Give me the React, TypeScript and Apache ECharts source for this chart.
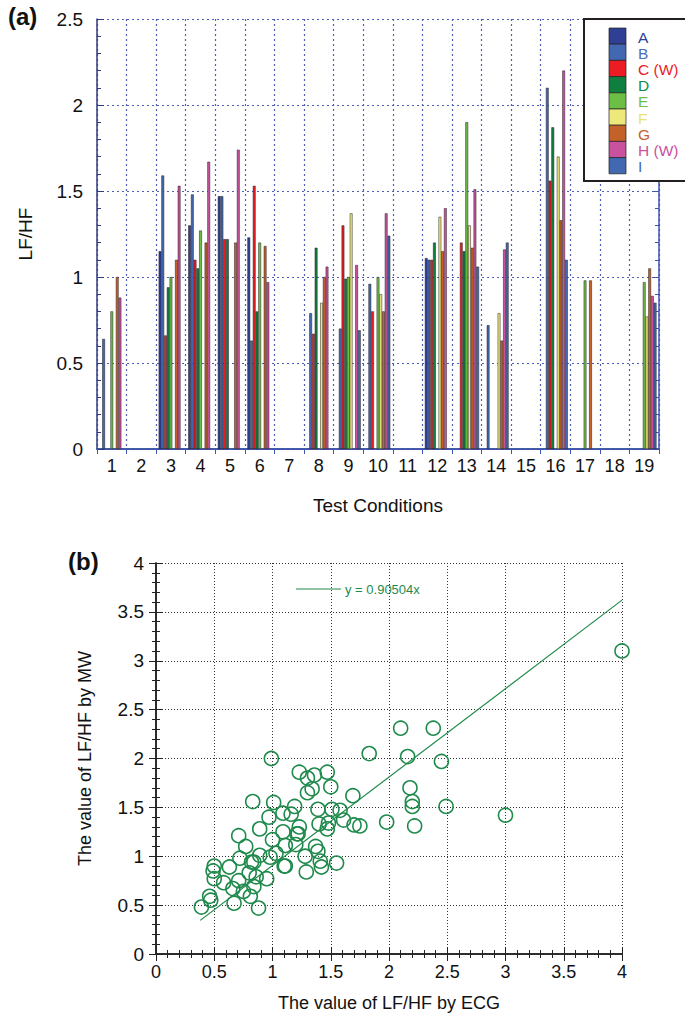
import React, { useEffect, useRef } from 'react'
import * as echarts from 'echarts'

// (a) LF/HF per test condition, series A..I
const conditions = ['1', '2', '3', '4', '5', '6', '7', '8', '9', '10', '11', '12', '13', '14', '15', '16', '17', '18', '19']
const seriesNames = ['A', 'B', 'C (W)', 'D', 'E', 'F', 'G', 'H (W)', 'I']

const valuesA = [null, null, 1.15, 1.30, 1.47, 1.23, null, null, null, null, null, 1.11, null, null, null, null, null, null, null]
const valuesB = [0.64, null, 1.59, 1.48, 1.47, 0.63, null, 0.79, 0.70, 0.96, null, 1.10, null, 0.72, null, 2.10, null, null, null]
const valuesC = [null, null, 0.66, 1.10, 1.22, 1.53, null, 0.67, 1.30, 0.80, null, 1.10, 1.20, null, null, 1.56, null, null, null]
const valuesD = [null, null, 0.94, 1.05, 1.22, 0.80, null, 1.17, 0.99, null, null, 1.20, 1.15, null, null, 1.87, null, null, null]
const valuesE = [0.80, null, 1.00, 1.27, null, 1.20, null, null, 1.00, 1.00, null, null, 1.90, null, null, null, 0.98, null, 0.97]
const valuesF = [null, null, null, null, null, null, null, 0.85, 1.37, 0.90, null, 1.35, 1.30, 0.79, null, 1.70, null, null, 0.77]
const valuesG = [1.00, null, 1.10, 1.20, 1.20, 1.18, null, 1.00, null, 0.80, null, 1.15, 1.17, 0.63, null, 1.33, 0.98, null, 1.05]
const valuesH = [0.88, null, 1.53, 1.67, 1.74, 0.97, null, 1.06, 1.07, 1.37, null, 1.40, 1.51, 1.16, null, 2.20, null, null, 0.89]
const valuesI = [null, null, null, null, null, null, null, null, 0.69, 1.24, null, null, 1.06, 1.20, null, 1.10, null, null, 0.85]
const barValues = [valuesA, valuesB, valuesC, valuesD, valuesE, valuesF, valuesG, valuesH, valuesI]

const barColors = ['#2e3f95', '#4168b1', '#ec1c24', '#0e7f3f', '#6dbe45', '#ece97a', '#c4612a', '#c9519e', '#4168b1']
const labelColors = ['#2e3f95', '#4a6fb5', '#ec1c24', '#14894a', '#6dbe45', '#e8e36a', '#c4612a', '#c9519e', '#4168b1']

// (b) LF/HF by ECG vs by MW
const ecgValues = [
  0.39, 0.46, 0.47, 0.49, 0.50, 0.50, 0.58, 0.63, 0.66, 0.67, 0.71, 0.72, 0.71, 0.75, 0.77, 0.81, 0.80, 0.83, 0.84, 0.84,
  0.86, 0.88, 0.89, 0.89, 0.95, 0.97, 0.98, 0.99, 1.01, 1.00, 1.03, 1.09, 1.10, 1.09, 1.11, 1.16, 1.19, 1.20, 1.21, 1.23,
  1.23, 1.30, 1.36, 1.34, 1.30, 1.28, 1.29, 1.37, 1.39, 1.40, 1.41, 1.42, 1.39, 1.47, 1.50, 1.47, 1.51, 1.48, 1.55, 1.58,
  1.61, 1.69, 1.70, 1.75, 1.83, 1.98, 2.10, 2.16, 2.18, 2.20, 2.20, 2.22, 2.38, 2.45, 2.49, 3.00, 4.00, 0.82, 1.22, 1.11,
]
const mwValues = [
  0.48, 0.59, 0.55, 0.85, 0.90, 0.77, 0.73, 0.89, 0.67, 0.52, 1.21, 0.98, 0.75, 0.64, 1.10, 0.59, 0.83, 1.56, 0.94, 0.69,
  0.79, 0.47, 1.28, 1.01, 0.77, 1.40, 0.99, 2.00, 1.55, 1.17, 1.03, 1.25, 0.90, 1.44, 1.11, 1.43, 1.51, 1.12, 1.23, 1.30,
  1.86, 1.80, 1.83, 1.69, 1.65, 1.00, 0.84, 1.10, 1.48, 1.33, 0.95, 0.89, 1.05, 1.86, 1.71, 1.28, 1.48, 1.34, 0.93, 1.47,
  1.37, 1.62, 1.32, 1.31, 2.05, 1.35, 2.31, 2.02, 1.70, 1.56, 1.51, 1.31, 2.31, 1.97, 1.51, 1.42, 3.10, 0.94, 1.23, 0.90,
]
const fitSlope = 0.90504
const fitStart = 0.38
const fitEnd = 4

const font = 'Liberation Sans, Arial, Helvetica, sans-serif'
const green = '#1f8a4c'
const gridBlue = '#4f5fb8'
const axisNavy = '#2f3a80'
const axisBlue = '#3b55b0'

// legend box of chart (a)
const legendLeft = 584
const legendTop = 19
const swatchTop = 28
const swatchHeight = 16.2

const App: React.FC = () => {
  const chartRef = useRef<HTMLDivElement>(null)

  useEffect(() => {
    if (!chartRef.current) return
    const chart = echarts.init(chartRef.current, undefined, { renderer: 'svg' })

    const barSeries = seriesNames.map((name, i) => ({
      name,
      type: 'bar',
      xAxisIndex: 0,
      yAxisIndex: 0,
      barGap: '0%',
      barCategoryGap: '17%',
      itemStyle: { color: barColors[i], borderColor: '#231f20', borderWidth: 0.5 },
      data: barValues[i],
    }))

    const scatterAxisCommon = {
      min: 0,
      max: 4,
      interval: 0.5,
      axisLine: { show: true, lineStyle: { color: '#222', width: 1.5 } },
      axisTick: { show: true, inside: true, length: 7, lineStyle: { color: '#222' } },
      minorTick: { show: true, splitNumber: 5, length: 4, lineStyle: { color: '#222' } },
    }

    const legendItems: any[] = []
    seriesNames.forEach((name, i) => {
      const y = swatchTop + i * swatchHeight
      legendItems.push({
        type: 'rect',
        z: 101,
        shape: { x: 609, y, width: 17, height: swatchHeight },
        style: { fill: barColors[i], stroke: '#231f20', lineWidth: 0.7 },
      })
      legendItems.push({
        type: 'text',
        z: 101,
        x: 638,
        y: y + swatchHeight / 2 + 1,
        style: { text: name, font: `15.5px ${font}`, fill: labelColors[i], textVerticalAlign: 'middle' },
      })
    })

    const option = {
      animation: false,
      textStyle: { fontFamily: font },
      grid: [
        { left: 97, top: 19, width: 562, height: 430 },
        { left: 156, top: 563, width: 466, height: 391 },
      ],
      xAxis: [
        {
          gridIndex: 0,
          type: 'category',
          data: conditions,
          axisLine: { lineStyle: { color: axisNavy, width: 1.5 } },
          axisTick: { inside: true, length: 5, interval: 0, lineStyle: { color: gridBlue } },
          axisLabel: { color: '#111', fontSize: 18, margin: 8, interval: 0 },
          splitLine: { show: true, interval: 0, lineStyle: { color: gridBlue, type: [2, 3], width: 1.2 } },
          name: 'Test Conditions',
          nameLocation: 'middle',
          nameGap: 47,
          nameTextStyle: { fontSize: 19, color: '#111' },
        },
        {
          gridIndex: 0,
          type: 'category',
          position: 'top',
          data: conditions,
          axisLine: { show: true, lineStyle: { color: axisBlue, width: 1.5 } },
          axisTick: { show: true, inside: true, length: 5, interval: 0, lineStyle: { color: axisBlue } },
          axisLabel: { show: false },
          splitLine: { show: false },
        },
        {
          gridIndex: 1,
          type: 'value',
          ...scatterAxisCommon,
          axisLabel: { color: '#111', fontSize: 18, margin: 9 },
          splitLine: { show: true, lineStyle: { color: '#333', type: [1, 2] } },
          name: 'The value of LF/HF by ECG',
          nameLocation: 'middle',
          nameGap: 40,
          nameTextStyle: { fontSize: 18, color: '#111' },
        },
        {
          gridIndex: 1,
          type: 'value',
          position: 'top',
          ...scatterAxisCommon,
          axisLabel: { show: false },
          splitLine: { show: false },
        },
      ],
      yAxis: [
        {
          gridIndex: 0,
          type: 'value',
          min: 0,
          max: 2.5,
          interval: 0.5,
          axisLine: { show: true, lineStyle: { color: axisNavy, width: 1.5 } },
          axisTick: { show: true, inside: true, length: 7, lineStyle: { color: axisNavy } },
          minorTick: { show: true, splitNumber: 5, length: 4, lineStyle: { color: axisNavy } },
          axisLabel: { color: '#111', fontSize: 19, margin: 14 },
          splitLine: { show: true, lineStyle: { color: gridBlue, type: [2, 3], width: 1.2 } },
          name: 'LF/HF',
          nameLocation: 'middle',
          nameGap: 62,
          nameTextStyle: { fontSize: 19, color: '#111' },
        },
        {
          gridIndex: 0,
          type: 'value',
          position: 'right',
          min: 0,
          max: 2.5,
          interval: 0.5,
          axisLine: { show: true, lineStyle: { color: axisBlue, width: 1.5 } },
          axisTick: { show: true, inside: true, length: 7, lineStyle: { color: axisBlue } },
          minorTick: { show: true, splitNumber: 5, length: 4, lineStyle: { color: axisBlue } },
          axisLabel: { show: false },
          splitLine: { show: false },
        },
        {
          gridIndex: 1,
          type: 'value',
          ...scatterAxisCommon,
          axisLabel: { color: '#111', fontSize: 19, margin: 12 },
          splitLine: { show: true, lineStyle: { color: '#333', type: [1, 2] } },
          name: 'The value of LF/HF by MW',
          nameLocation: 'middle',
          nameGap: 62,
          nameTextStyle: { fontSize: 18, color: '#111' },
        },
        {
          gridIndex: 1,
          type: 'value',
          position: 'right',
          ...scatterAxisCommon,
          axisLabel: { show: false },
          splitLine: { show: false },
        },
      ],
      series: [
        ...barSeries,
        {
          name: 'MW vs ECG',
          type: 'scatter',
          xAxisIndex: 2,
          yAxisIndex: 2,
          symbol: 'circle',
          symbolSize: 14,
          itemStyle: { color: 'rgba(255,255,255,0)', borderColor: green, borderWidth: 1.6, opacity: 1 },
          data: ecgValues.map((x, i) => [x, mwValues[i]]),
        },
        {
          name: 'fit',
          type: 'line',
          xAxisIndex: 2,
          yAxisIndex: 2,
          symbol: 'none',
          lineStyle: { color: green, width: 1.2 },
          data: [
            [fitStart, fitStart * fitSlope],
            [fitEnd, fitEnd * fitSlope],
          ],
        },
      ],
      graphic: [
        { type: 'text', left: 8, top: 4, style: { text: '(a)', font: `bold 24px ${font}`, fill: '#111' } },
        { type: 'text', left: 68, top: 549, style: { text: '(b)', font: `bold 24px ${font}`, fill: '#111' } },
        {
          type: 'rect',
          z: 100,
          shape: { x: legendLeft, y: legendTop, width: 130, height: 162 },
          style: { fill: '#fff', stroke: '#231f20', lineWidth: 2 },
        },
        ...legendItems,
        { type: 'line', shape: { x1: 296, y1: 589, x2: 341, y2: 589 }, style: { stroke: green, lineWidth: 1.2 } },
        {
          type: 'text',
          x: 345,
          y: 589,
          style: { text: 'y = 0.90504x', font: `13px ${font}`, fill: green, textVerticalAlign: 'middle' },
        },
      ],
    }

    chart.setOption(option as any)

    return () => {
      chart.dispose()
    }
  }, [])

  return <div ref={chartRef} style={{ position: 'absolute', left: 0, top: 0, width: 685, height: 1017, background: '#fff' }} />
}

export default App
